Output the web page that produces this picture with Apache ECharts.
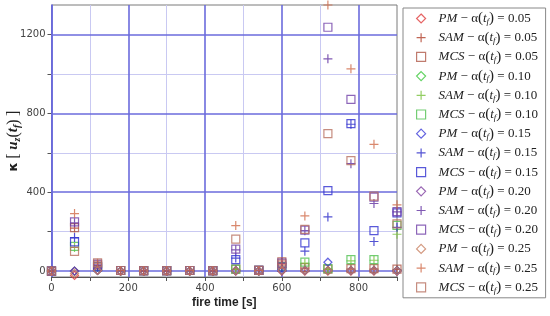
<!DOCTYPE html>
<html><head><meta charset="utf-8">
<script src="https://cdn.jsdelivr.net/npm/echarts@6/dist/echarts.min.js"></script>
<style>html,body{margin:0;padding:0;background:#fff}#c{width:550px;height:316px}</style>
</head><body><div id="c"></div>
<script>
// fire times [s]
const times = [0,60,120,180,240,300,360,420,480,540,600,660,720,780,840,900];

// kappa values
const pm05  = [0,-22,5,0,0,0,0,0,0,0,0,0,0,0,0,0];
const sam05 = [0,218,28,2,1,1,2,1,8,3,45,15,8,10,10,8];
const mcs05 = [0,220,30,3,2,2,3,2,10,4,47,18,10,12,12,10];
const pm10  = [0,0,3,0,0,0,0,0,2,0,3,3,3,3,3,3];
const sam10 = [0,120,20,2,1,1,2,1,8,3,20,40,10,52,55,187];
const mcs10 = [0,125,22,3,2,2,3,2,10,4,22,45,12,58,58,232];
const pm15  = [0,0,3,0,0,0,0,0,2,0,3,3,45,3,3,0];
const sam15 = [0,170,20,2,1,1,2,1,66,3,18,101,275,745,150,222];
const mcs15 = [0,148,22,3,2,2,3,2,58,4,20,143,408,748,205,295];
const pm20  = [0,0,3,0,0,0,0,0,2,0,3,3,3,3,3,3];
const sam20 = [0,245,32,2,1,1,2,1,108,3,38,205,1077,545,343,300];
const mcs20 = [0,250,35,3,2,2,3,2,111,4,40,208,1237,871,375,302];
const pm25  = [0,-12,3,0,0,0,0,0,2,0,3,3,3,3,3,0];
const sam25 = [0,292,40,2,1,1,2,1,231,3,35,280,1350,1026,643,336];
const mcs25 = [0,100,42,3,2,2,3,2,162,4,35,212,697,560,380,240];

// axis ticks / labels
const xLabels = [0,200,400,600,800];
const xTicks = [0,100,200,300,400,500,600,700,800,900];
const xMajor = [0,200,400,600,800];
const xMinor = [100,300,500,700];
const yLabels = [0,400,800,1200];
const yTicks = [0,200,400,600,800,1000,1200];
const yMajor = [0,400,800,1200];
const yMinor = [200,600,1000];

const alphas = ['0.05','0.10','0.15','0.20','0.25'];
const methods = ['PM','SAM','MCS'];
const values = {
  'PM0.05':pm05,'SAM0.05':sam05,'MCS0.05':mcs05,
  'PM0.10':pm10,'SAM0.10':sam10,'MCS0.10':mcs10,
  'PM0.15':pm15,'SAM0.15':sam15,'MCS0.15':mcs15,
  'PM0.20':pm20,'SAM0.20':sam20,'MCS0.20':mcs20,
  'PM0.25':pm25,'SAM0.25':sam25,'MCS0.25':mcs25
};
const colors = {
  'PM0.05':'#e03c3c','SAM0.05':'#b0402a','MCS0.05':'#b05a4a',
  'PM0.10':'#3cc83c','SAM0.10':'#78c03c','MCS0.10':'#50c050',
  'PM0.15':'#3c3cd8','SAM0.15':'#2828c8','MCS0.15':'#3030d0',
  'PM0.20':'#8040a0','SAM0.20':'#6030a0','MCS0.20':'#7040a8',
  'PM0.25':'#c88060','SAM0.25':'#d06a48','MCS0.25':'#b87060'
};
const symbols = {PM:'diamond', SAM:'path://M5,0L5,10M0,5L10,5', MCS:'rect'};
const sizes = {PM:8, SAM:9, MCS:8};

const majorStyle = {color:'#6b6bdc', width:1.6, type:'solid'};
const minorStyle = {color:'#c9c9f2', width:1, type:'solid'};

const series = [{
  type:'scatter', name:'__grid', data:[], silent:true, z:1,
  markLine:{
    silent:true, symbol:'none', animation:false, z:1,
    label:{show:false},
    data:[
      ...xMinor.map(v=>({xAxis:v, lineStyle:minorStyle})),
      ...yMinor.map(v=>({yAxis:v, lineStyle:minorStyle})),
      ...xMajor.map(v=>({xAxis:v, lineStyle:majorStyle})),
      ...yMajor.map(v=>({yAxis:v, lineStyle:majorStyle}))
    ]
  }
}];
const legendNames = [];
alphas.forEach(a=>{
  methods.forEach(m=>{
    const key = m + a;
    const name = m + ' − α(t_f) = ' + a;
    legendNames.push(name);
    series.push({
      type:'scatter', name:name, z:3, clip:false,
      symbol:symbols[m], symbolSize:sizes[m],
      itemStyle:{color:'rgba(0,0,0,0)', borderColor:colors[key], borderWidth:1.2},
      emphasis:{disabled:true},
      data: times.map((t,i)=>[t, values[key][i]])
    });
  });
});

const chart = echarts.init(document.getElementById('c'));
chart.setOption({
  animation:false,
  backgroundColor:'#fff',
  grid:{left:51.5, right:153, top:5, bottom:39, containLabel:false, outerBoundsMode:'none',
        show:true, borderColor:'#7a7a7a', borderWidth:1, backgroundColor:'transparent'},
  xAxis:{
    type:'value', min:0, max:900, interval:100,
    name:'fire time [s]', nameLocation:'middle', nameGap:20, nameMoveOverlap:false,
    nameTextStyle:{fontFamily:'Liberation Sans', fontWeight:'bold', fontSize:12, color:'#222'},
    axisLine:{show:true, onZero:false, lineStyle:{color:'#555', width:1.2}},
    axisTick:{show:true, length:4, customValues:xTicks, lineStyle:{color:'#555'}},
    axisLabel:{customValues:xLabels, formatter:v=>String(v), fontFamily:'DejaVu Sans', fontSize:10, color:'#444', margin:6},
    splitLine:{show:false}
  },
  yAxis:{
    type:'value', min:-30, max:1350,
    name:'{k|κ} {b|[} {u|u}{s|z}{p|(}{u|t}{s|f}{p|)} {b|]}',
    nameLocation:'middle', nameRotate:90, nameGap:29, nameMoveOverlap:false,
    nameTextStyle:{
      fontFamily:'Liberation Serif', fontSize:14, color:'#222', lineHeight:18,
      rich:{
        k:{fontFamily:'DejaVu Sans', fontWeight:'bold', fontSize:13, color:'#222', lineHeight:18},
        b:{fontFamily:'Liberation Serif', fontSize:16, color:'#222', lineHeight:18},
        u:{fontFamily:'Liberation Serif', fontWeight:'bold', fontStyle:'italic', fontSize:15, color:'#222', lineHeight:18},
        s:{fontFamily:'Liberation Serif', fontWeight:'bold', fontStyle:'italic', fontSize:10, color:'#222', lineHeight:9, verticalAlign:'bottom'},
        p:{fontFamily:'Liberation Serif', fontSize:16, color:'#222', lineHeight:18}
      }
    },
    axisLine:{show:true, onZero:false, lineStyle:{color:'#6b6bdc', width:1.6}},
    axisTick:{show:true, length:4, customValues:yTicks, lineStyle:{color:'#555'}},
    axisLabel:{customValues:yLabels, formatter:v=>String(v), fontFamily:'DejaVu Sans', fontSize:10, color:'#444', margin:6},
    splitLine:{show:false}
  },
  legend:{
    data:legendNames,
    orient:'vertical', left:403, top:8,
    padding:[3,6,3,13],
    itemWidth:9, itemHeight:9, itemGap:4.2,
    borderColor:'#888', borderWidth:1,
    itemStyle:{borderWidth:1.2},
    selectedMode:false,
    textStyle:{
      fontFamily:'Liberation Serif', fontSize:13, color:'#222', lineHeight:15, width:101, padding:[0,0,0,8],
      rich:{
        i:{fontFamily:'Liberation Serif', fontStyle:'italic', fontSize:13, color:'#222', lineHeight:15},
        n:{fontFamily:'Liberation Serif', fontSize:13, color:'#222', lineHeight:15},
        s:{fontFamily:'Liberation Serif', fontStyle:'italic', fontSize:9, color:'#222', lineHeight:9, verticalAlign:'bottom'},
        p:{fontFamily:'Liberation Serif', fontSize:15, color:'#222', lineHeight:15}
      }
    },
    formatter:function(name){
      const m = name.match(/^(\w+) − α\(t_f\) = (.+)$/);
      return '{i|' + m[1] + '}{n| − α}{p|(}{i|t}{s|f}{p|)}{n| = ' + m[2] + '}';
    }
  },
  series:series
});
</script>
</body></html>
